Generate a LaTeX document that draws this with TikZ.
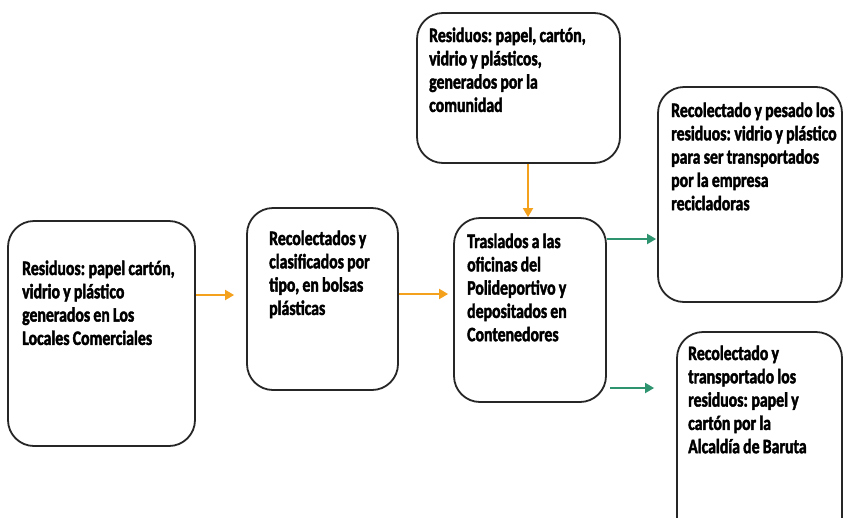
\documentclass[tikz,border=0pt]{standalone}
\usepackage{fontspec}
\newfontfamily\boxfont{Carlito}[UprightFont={* Bold}, FakeStretch=0.77, FakeBold=2]
\newcommand\bx[1]{{\boxfont\fontsize{20.5}{23.3}\selectfont\spaceskip=3.2pt plus 1pt minus 0.5pt\relax\xspaceskip=3.6pt\relax #1\par}}
\usetikzlibrary{arrows.meta}
\definecolor{oarr}{HTML}{F4A11E}
\definecolor{garr}{HTML}{2E9470}
\definecolor{bord}{HTML}{262626}
\begin{document}
\begin{tikzpicture}[x=1pt,y=-1pt,
  boxst/.style={draw=bord, line width=1.8pt, rounded corners=26pt, inner sep=0pt},
  txt/.style={anchor=base west, inner sep=0pt, align=left, text width=190pt},
  oarrow/.style={draw=oarr, line width=1.8pt, -{Triangle[length=9pt,width=10pt]}},
  garrow/.style={draw=garr, line width=1.8pt, -{Triangle[length=9pt,width=10pt]}}]
\useasboundingbox (0,0) rectangle (843,517);
\clip (0,0) rectangle (843,517);
\fill[white] (0,0) rectangle (843,517);

\node[boxst, minimum width=187pt, minimum height=225pt] (A) at (101.5,333.5) {};
\node[boxst, minimum width=151pt, minimum height=182pt] (B) at (322.5,299) {};
\node[boxst, minimum width=203pt, minimum height=150pt] (C) at (518.5,88) {};
\node[boxst, minimum width=152pt, minimum height=184pt] (D) at (530,310) {};
\node[boxst, minimum width=184pt, minimum height=215pt] (E) at (750,194.5) {};
\node[boxst, minimum width=165pt, minimum height=213pt] (F) at (759.5,438.5) {};

\node[txt] (At) at (22,275) {\bx{Residuos: papel cartón,\\vidrio y plástico\\generados en Los\\Locales Comerciales}};
\node[txt] (Bt) at (269,245) {\bx{Recolectados y\\clasificados por\\tipo, en bolsas\\plásticas}};
\node[txt] (Ct) at (429,42) {\bx{Residuos: papel, cartón,\\vidrio y plásticos,\\generados por la\\comunidad}};
\node[txt] (Dt) at (467,248) {\bx{Traslados a las\\oficinas del\\Polideportivo y\\depositados en\\Contenedores}};
\node[txt] (Et) at (671,117) {\bx{Recolectado y pesado los\\residuos: vidrio y plástico\\para ser transportados\\por la empresa\\recicladoras}};
\node[txt] (Ft) at (688,360) {\bx{Recolectado y\\transportado los\\residuos: papel y\\cartón por la\\Alcaldía de Baruta}};

\draw[oarrow, shorten >=12pt] (A.east |- 0,295) -- (B.west |- 0,295);
\draw[oarrow, shorten >=5pt] (B.east |- 0,294) -- (D.west |- 0,294);
\draw[oarrow] (C.south -| 528,0) -- (D.north -| 528,0);
\draw[garrow, shorten >=1pt] (D.east |- 0,239) -- (E.west |- 0,239);
\draw[garrow, shorten <=3pt, shorten >=22pt] (D.east |- 0,388) -- (F.west |- 0,388);
\end{tikzpicture}
\end{document}
